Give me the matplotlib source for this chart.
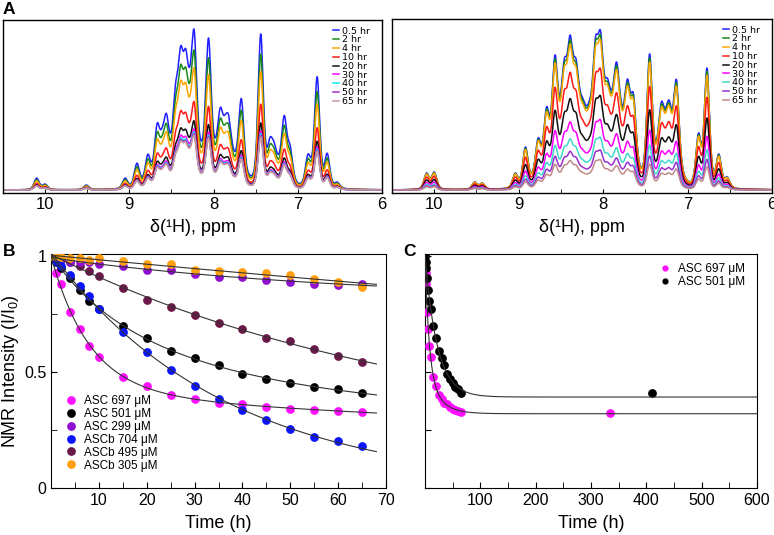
import numpy as np
import matplotlib
matplotlib.use("Agg")
import matplotlib.pyplot as plt
from matplotlib.lines import Line2D
from matplotlib.ticker import MultipleLocator, FixedLocator, NullFormatter

plt.rcParams['font.family'] = ['Liberation Sans', 'DejaVu Sans']
plt.rcParams['mathtext.default'] = 'regular'

# ---------------- Panel A data (peak lists, 0.5 hr spectrum) -------------
spec_times = ['0.5 hr', '2 hr', '4 hr', '10 hr', '20 hr', '30 hr', '40 hr', '50 hr', '65 hr']
left_colors = ['#2020ff', '#1a8a1a', '#ffa500', '#ff1a1a', '#111111', '#ff00ff', '#00f0f0', '#9a30d0', '#c89a9a']
right_colors = ['#2020ff', '#1a8a1a', '#ffa500', '#ff1a1a', '#111111', '#ff00ff', '#40d8c8', '#9a30d0', '#c08a8a']
left_scale = [1.00, 0.87, 0.76, 0.55, 0.43, 0.38, 0.36, 0.35, 0.34]
right_scale = [1.00, 0.97, 0.94, 0.76, 0.59, 0.44, 0.33, 0.25, 0.19]

left_peak_ppm = [10.10, 10.00, 9.51, 9.05, 8.91, 8.78, 8.67, 8.61, 8.56, 8.45, 8.39, 8.33, 8.28,
                 8.23, 8.06, 7.92, 7.86, 7.82, 7.67, 7.44, 7.33, 7.28, 7.16, 7.09, 6.88, 6.84,
                 6.77, 6.65, 6.53]
left_peak_h = [12, 6, 5, 12, 27, 36, 67, 63, 77, 108, 145, 142, 125,
               161, 153, 83, 76, 75, 92, 157, 53, 48, 75, 45, 36, 33,
               114, 37, 8]
left_hump_ppm = [8.35, 7.85, 7.25]
left_hump_h = [35, 30, 20]
left_hump_w = [0.55, 0.35, 0.25]

right_peak_ppm = [10.09, 10.00, 9.52, 9.43, 9.04, 8.92, 8.77, 8.67, 8.57, 8.46, 8.39, 8.32,
                  8.24, 8.16, 8.09, 8.03, 7.95, 7.84, 7.71, 7.64, 7.45, 7.31, 7.22, 7.13,
                  6.87, 6.77, 6.63, 6.53]
right_peak_h = [17, 18, 8, 7, 17, 43, 52, 83, 135, 131, 155, 131,
                92, 90, 153, 159, 112, 128, 111, 96, 136, 88, 90, 110,
                57, 122, 36, 13]
right_hump_ppm = [8.35, 7.85, 7.25]
right_hump_h = [75, 70, 55]
right_hump_w = [0.55, 0.35, 0.25]

# ---------------- Panel B data -------------
t_B = [0, 1, 2, 4, 6, 8, 10, 15, 20, 25, 30, 35, 40, 45, 50, 55, 60, 65]
asc697 = [1.0, 0.928, 0.879, 0.761, 0.687, 0.613, 0.566, 0.480, 0.441, 0.402, 0.386, 0.366,
          0.361, 0.351, 0.342, 0.338, 0.333, 0.328]
asc501 = [1.0, 0.975, 0.951, 0.908, 0.853, 0.806, 0.772, 0.700, 0.648, 0.593, 0.559, 0.529,
          0.494, 0.471, 0.455, 0.435, 0.427, 0.408]
asc299 = [1.0, 0.995, 0.99, 0.977, 0.975, 0.974, 0.967, 0.957, 0.943, 0.940, 0.922, 0.912,
          0.911, 0.899, 0.891, 0.882, 0.878, 0.881]
ascb704 = [1.0, 0.98, 0.96, 0.921, 0.872, 0.828, 0.772, 0.675, 0.586, 0.510, 0.441, 0.382,
           0.335, 0.292, 0.254, 0.218, 0.201, 0.181]
ascb495 = [1.0, 0.99, 0.985, 0.977, 0.960, 0.937, 0.914, 0.865, 0.812, 0.780, 0.746, 0.714,
           0.685, 0.648, 0.635, 0.598, 0.569, 0.546]
ascb305 = [1.0, 1.0, 0.996, 0.993, 0.993, 0.984, 0.994, 0.978, 0.966, 0.966, 0.943, 0.938,
           0.934, 0.927, 0.920, 0.902, 0.888, 0.869]
labels_B = ['ASC 697 \u03bcM', 'ASC 501 \u03bcM', 'ASC 299 \u03bcM',
            'ASCb 704 \u03bcM', 'ASCb 495 \u03bcM', 'ASCb 305 \u03bcM']
colors_B = ['#ff10ff', '#000000', '#9010d0', '#0a14ff', '#6a1848', '#ffa010']

# ---------------- Panel C extra (late) points -------------
late_t_697, late_y_697 = 334, 0.323
late_t_501, late_y_501 = 411, 0.409
labels_C = ['ASC 697 \u03bcM', 'ASC 501 \u03bcM']


# ---------------- helpers -------------
def pv(x, c, w, eta=0.4):
    d = (x - c) / (w / 2.0)
    return eta / (1 + d ** 2) + (1 - eta) * np.exp(-np.log(2) * d ** 2)


def build_spectrum(x, pk_ppm, pk_h, hump_ppm, hump_h, hump_w, w=0.072):
    pk_ppm = np.asarray(pk_ppm, float)
    pk_h = np.asarray(pk_h, float)
    base_at = np.zeros_like(pk_ppm)
    base_x = np.zeros_like(x)
    for c, h, hw in zip(hump_ppm, hump_h, hump_w):
        base_at += h * np.exp(-4 * np.log(2) * ((pk_ppm - c) / hw) ** 2)
        base_x += h * np.exp(-4 * np.log(2) * ((x - c) / hw) ** 2)
    M = np.array([[pv(ci, cj, w) for cj in pk_ppm] for ci in pk_ppm])
    target = np.clip(pk_h - base_at, 0, None)
    active = np.ones(len(pk_ppm), bool)
    amps = np.zeros(len(pk_ppm))
    for _ in range(len(pk_ppm)):
        sol = np.linalg.lstsq(M[:, active], target, rcond=None)[0]
        if (sol >= 0).all():
            amps[:] = 0
            amps[active] = sol
            break
        idx = np.where(active)[0][np.argmin(sol)]
        active[idx] = False
    y = base_x.copy()
    for c, a in zip(pk_ppm, amps):
        y += a * pv(x, c, w)
    return y


def fit_biexp(t, y, tt):
    t = np.asarray(t, float)
    y = np.asarray(y, float)
    ks = np.geomspace(0.002, 3.0, 70)
    best = None
    for i, k1 in enumerate(ks):
        for k2 in ks[i:]:
            A = np.column_stack([np.exp(-k1 * t), np.exp(-k2 * t), np.ones_like(t)])
            coef = np.linalg.lstsq(A, y, rcond=None)[0]
            if coef[0] < 0 or coef[1] < 0:
                continue
            r = np.sum((A @ coef - y) ** 2)
            if best is None or r < best[0]:
                best = (r, k1, k2, coef)
    _, k1, k2, coef = best
    return coef[0] * np.exp(-k1 * tt) + coef[1] * np.exp(-k2 * tt) + coef[2]


fig = plt.figure(figsize=(7.74, 5.35), dpi=100)

# ---------------- Panel A -------------
x = np.linspace(6.0, 10.5, 4000)
axA1 = fig.add_axes([3 / 774, 1 - 193 / 535, 379 / 774, 173 / 535])
axA2 = fig.add_axes([392 / 774, 1 - 193 / 535, 380 / 774, 174 / 535])
for ax, pk, ph, hp, hh, hw, scales, cols in [
        (axA1, left_peak_ppm, left_peak_h, left_hump_ppm, left_hump_h, left_hump_w, left_scale, left_colors),
        (axA2, right_peak_ppm, right_peak_h, right_hump_ppm, right_hump_h, right_hump_w, right_scale, right_colors)]:
    spec = build_spectrum(x, pk, ph, hp, hh, hw)
    handles = []
    for s, c, lab in zip(scales, cols, spec_times):
        ln, = ax.plot(x, spec * s, color=c, lw=1.1, label=lab)
        handles.append(ln)
    ax.set_xlim(10.5, 6.0)
    ax.set_ylim(-3, 171)
    ax.set_yticks([])
    ax.xaxis.set_major_locator(MultipleLocator(1))
    ax.xaxis.set_minor_locator(MultipleLocator(0.5))
    ax.tick_params(axis='x', which='both', direction='in', labelsize=12, pad=3)
    ax.tick_params(axis='x', which='major', length=3)
    ax.tick_params(axis='x', which='minor', length=3)
    ax.set_xlabel('\u03b4(\u00b9H), ppm', fontsize=13, labelpad=5)
    leg = ax.legend(handles=handles, loc='upper right', frameon=False,
                    prop={'family': 'DejaVu Sans', 'size': 6.8},
                    handlelength=0.6, handletextpad=0.3, labelspacing=-0.02,
                    borderaxespad=0.3, bbox_to_anchor=(0.985, 1.0))
    for sp in ax.spines.values():
        sp.set_linewidth(1.0)

# ---------------- Panel B -------------
axB = fig.add_axes([51 / 774, 1 - 488 / 535, 335 / 774, 234 / 535])
series_B = [asc697, asc501, asc299, ascb704, ascb495, ascb305]
tt = np.linspace(0, 68, 400)
order = [0, 1, 4, 2, 3, 5]
for i in order:
    axB.plot(t_B, series_B[i], 'o', color=colors_B[i], ms=6.3, mec='none', zorder=3)
for i in range(6):
    axB.plot(tt, fit_biexp(t_B, series_B[i], tt), color='#333333', lw=0.8, zorder=4)
axB.set_xlim(0, 70)
axB.set_ylim(0, 1.01)
axB.xaxis.set_major_locator(FixedLocator([10, 20, 30, 40, 50, 60, 70]))
axB.xaxis.set_minor_locator(MultipleLocator(5))
axB.yaxis.set_major_locator(FixedLocator([0, 0.5, 1]))
axB.yaxis.set_minor_locator(FixedLocator([0.25, 0.75]))
axB.set_yticklabels(['0', '0.5', '1'])
axB.tick_params(which='both', direction='in', labelsize=11.5, length=4)
axB.set_xlabel('Time (h)', fontsize=13, labelpad=5)
axB.set_ylabel('NMR Intensity (I/I$_0$)', fontsize=13)
axB.yaxis.set_label_coords(-0.09, 0.5)
hB = [Line2D([], [], ls='none', marker='o', ms=6.3, mec='none', color=c) for c in colors_B]
axB.legend(hB, labels_B, loc='lower left', frameon=False, fontsize=8.5,
           handletextpad=0.6, labelspacing=0.08, borderaxespad=0.2,
           bbox_to_anchor=(0.02, 0.04), handlelength=1.0)

# ---------------- Panel C -------------
axC = fig.add_axes([425 / 774, 1 - 488 / 535, 332 / 774, 234 / 535])
tC697 = t_B + [late_t_697]
yC697 = asc697 + [late_y_697]
tC501 = t_B + [late_t_501]
yC501 = asc501 + [late_y_501]
ttC = np.linspace(0, 600, 1200)
axC.plot(tC697, yC697, 'o', color=colors_B[0], ms=6.3, mec='none', zorder=3)
axC.plot(tC501, yC501, 'o', color=colors_B[1], ms=6.3, mec='none', zorder=3)
axC.plot(ttC, fit_biexp(tC697, yC697, ttC), color='#333333', lw=0.8, zorder=4)
axC.plot(ttC, fit_biexp(tC501, yC501, ttC), color='#333333', lw=0.8, zorder=4)
axC.set_xlim(0, 600)
axC.set_ylim(0, 1.01)
axC.xaxis.set_major_locator(FixedLocator([100, 200, 300, 400, 500, 600]))
axC.xaxis.set_minor_locator(MultipleLocator(50))
axC.yaxis.set_major_locator(FixedLocator([0, 0.25, 0.5, 0.75, 1]))
axC.yaxis.set_major_formatter(NullFormatter())
axC.tick_params(which='both', direction='in', labelsize=11.5, length=4)
axC.set_xlabel('Time (h)', fontsize=13, labelpad=5)
hC = [Line2D([], [], ls='none', marker='o', ms=4.5, mec='none', color=c) for c in colors_B[:2]]
axC.legend(hC, labels_C, loc='upper right', frameon=False, fontsize=8.5,
           handletextpad=0.6, labelspacing=0.05, borderaxespad=0.3,
           bbox_to_anchor=(0.99, 0.995), handlelength=1.0)

# ---------------- Panel letters -------------
fig.text(9 / 774, 1 - 10 / 535, 'A', fontsize=12.5, fontweight='bold', ha='center', va='center')
fig.text(9 / 774, 1 - 251 / 535, 'B', fontsize=12.5, fontweight='bold', ha='center', va='center')
fig.text(410 / 774, 1 - 252 / 535, 'C', fontsize=12.5, fontweight='bold', ha='center', va='center')

fig.savefig('out.png', dpi=100)
